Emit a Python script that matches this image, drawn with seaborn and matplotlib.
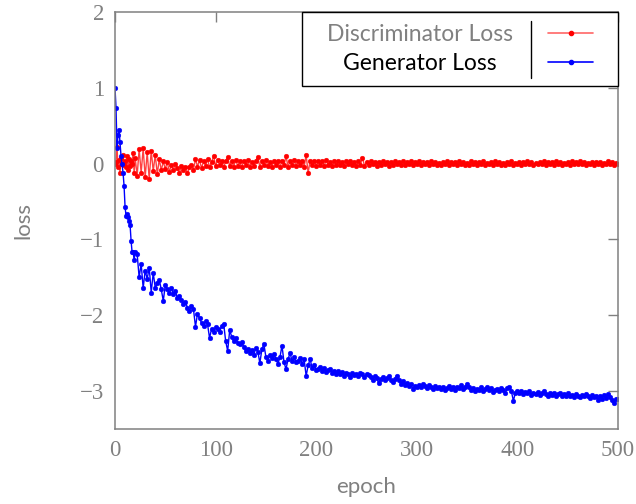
import matplotlib
matplotlib.use("Agg")
import matplotlib.pyplot as plt
import seaborn as sns
import pandas as pd
from matplotlib.lines import Line2D
from matplotlib.patches import Rectangle

# ---------------- data ----------------
epochs = list(range(0, 21)) + list(range(22, 501, 2))

disc_loss = [
    0.00, 0.02, 0.22, -0.05, 0.05, -0.12, 0.08, 0.00, 0.12, -0.02,
    0.03, -0.05, 0.10, -0.08, 0.06, -0.03, 0.04, 0.00, 0.14, -0.12, 0.08,
    -0.16, 0.19, -0.12, 0.20, -0.18, 0.15, -0.20, 0.17, -0.10, 0.12,
    -0.14, 0.06, -0.09, 0.03, -0.07, 0.02, -0.11, -0.02, -0.08, 0.00,
    -0.06, -0.12, -0.03, -0.09, -0.04, -0.13, -0.05, -0.02, -0.08, 0.06,
    -0.04, 0.05, -0.06, 0.03, -0.03, 0.06, -0.05, 0.02, 0.10, -0.03,
    0.05, -0.02, 0.04, -0.05, 0.03, 0.09, -0.03, 0.04, -0.04, 0.05,
    -0.03, 0.03, -0.05, 0.04, -0.02, 0.05, -0.04, 0.02, -0.03, 0.04,
    0.09, -0.04, 0.03, -0.02, 0.05, -0.03, 0.02, -0.04, 0.04, -0.02,
    0.03, -0.05, 0.04, -0.02, 0.10, -0.04, 0.03, -0.02, 0.05, -0.03,
    0.04, -0.02, 0.03, -0.04, 0.11, -0.12, 0.04, -0.02, 0.03, -0.03,
    0.04, -0.02, 0.03, -0.03, 0.05, -0.02, 0.02, -0.03, 0.04, -0.02,
    0.03, -0.02, 0.02, -0.03, 0.04, -0.01, 0.03, -0.02, 0.02, -0.03,
    0.03, -0.02, 0.08, -0.03, 0.02, -0.02, 0.03, -0.01, 0.02, -0.03,
    0.02, -0.02, 0.03, -0.01, 0.02, -0.03, 0.02, -0.02, 0.03, -0.01,
    0.02, -0.02, 0.04, -0.02, 0.02, -0.01, 0.03, -0.02, 0.02, -0.01,
    0.03, -0.02, 0.02, -0.01, 0.02, -0.02, 0.03, -0.01, 0.02, -0.02,
    0.01, -0.02, 0.02, -0.01, 0.03, -0.02, 0.02, -0.01, 0.02, -0.02,
    0.03, -0.01, 0.02, -0.02, 0.01, -0.02, 0.03, -0.01, 0.02, -0.02,
    0.02, -0.01, 0.03, -0.02, 0.01, -0.01, 0.02, -0.02, 0.03, -0.01,
    0.02, -0.02, 0.01, -0.02, 0.02, -0.01, 0.03, -0.02, 0.01, -0.01,
    0.02, -0.02, 0.02, -0.01, 0.03, -0.01, 0.02, -0.02, 0.01, -0.01,
    0.02, -0.01, 0.03, -0.02, 0.02, -0.01, 0.02, -0.02, 0.03, -0.01,
    0.02, -0.02, 0.01, -0.01, 0.02, -0.02, 0.03, -0.01, 0.02, -0.01,
    0.03, -0.01, 0.02, -0.02, 0.01, -0.01, 0.02, -0.02, 0.02, -0.01,
    0.02, -0.02, 0.01, -0.01, 0.03, -0.01, 0.02, -0.02, 0.01, 0.00,
]

gen_loss = [
    1.00, 0.74, 0.21, 0.38, 0.45, 0.28, 0.10, -0.01, -0.12, -0.29,
    -0.57, -0.69, -0.66, -0.70, -0.75, -0.81, -1.02, -1.17, -1.16, -1.27, -1.17,
    -1.19, -1.50, -1.32, -1.64, -1.41, -1.52, -1.37, -1.70, -1.44, -1.64,
    -1.58, -1.53, -1.66, -1.81, -1.60, -1.66, -1.70, -1.64, -1.72, -1.68,
    -1.77, -1.74, -1.80, -1.85, -1.82, -1.90, -1.94, -1.88, -1.92, -2.15,
    -1.98, -2.04, -2.10, -2.14, -2.08, -2.12, -2.30, -2.18, -2.22, -2.16,
    -2.18, -2.22, -2.14, -2.11, -2.34, -2.47, -2.20, -2.28, -2.34, -2.30,
    -2.36, -2.38, -2.35, -2.42, -2.47, -2.44, -2.50, -2.46, -2.52, -2.43,
    -2.48, -2.63, -2.45, -2.38, -2.55, -2.60, -2.52, -2.56, -2.51, -2.58,
    -2.64, -2.55, -2.40, -2.62, -2.71, -2.58, -2.50, -2.60, -2.55, -2.62,
    -2.60, -2.56, -2.64, -2.58, -2.80, -2.66, -2.58, -2.70, -2.65, -2.72,
    -2.71, -2.68, -2.74, -2.70, -2.75, -2.72, -2.71, -2.76, -2.73, -2.77,
    -2.74, -2.78, -2.75, -2.80, -2.76, -2.77, -2.81, -2.76, -2.79, -2.77,
    -2.80, -2.76, -2.78, -2.82, -2.77, -2.79, -2.81, -2.85, -2.80, -2.83,
    -2.89, -2.84, -2.82, -2.86, -2.83, -2.80, -2.85, -2.88, -2.84, -2.80,
    -2.86, -2.90, -2.87, -2.92, -2.89, -2.93, -2.91, -2.97, -2.93, -2.95,
    -2.92, -2.95, -2.90, -2.93, -2.96, -2.92, -2.95, -2.97, -2.93, -2.96,
    -2.94, -2.97, -2.95, -2.99, -2.96, -2.93, -2.97, -2.95, -2.98, -2.94,
    -2.96, -2.92, -2.97, -2.94, -2.91, -2.95, -2.98, -2.96, -3.00, -2.97,
    -2.99, -2.95, -3.00, -2.97, -2.95, -2.99, -2.96, -3.01, -2.98, -2.97,
    -3.00, -2.96, -2.98, -3.02, -2.96, -2.94, -3.00, -3.13, -3.02, -3.00,
    -3.03, -3.00, -3.04, -3.01, -3.03, -3.00, -3.05, -3.02, -3.04, -3.01,
    -3.05, -3.03, -3.00, -3.04, -3.06, -3.02, -3.05, -3.03, -3.07, -3.04,
    -3.02, -3.06, -3.04, -3.07, -3.03, -3.06, -3.05, -3.08, -3.04, -3.06,
    -3.08, -3.05, -3.07, -3.04, -3.06, -3.09, -3.05, -3.08, -3.06, -3.12,
    -3.07, -3.10, -3.05, -3.09, -3.04, -3.08, -3.12, -3.16, -3.10, -3.11,
]

n = min(len(epochs), len(disc_loss), len(gen_loss))

x_ticks = [0, 100, 200, 300, 400, 500]
y_ticks = [-3, -2, -1, 0, 1, 2]
x_label = "epoch"
y_label = "loss"
series_names = ["Discriminator Loss", "Generator Loss"]

# ---------------- style ----------------
sns.set_theme(style="white")
GRAY = "#808080"
plt.rcParams["font.family"] = ["Lato", "DejaVu Sans"]

W, H = 636, 504
AX_L, AX_R, AX_T, AX_B = 115, 618, 12, 429
fig = plt.figure(figsize=(W / 100, H / 100), dpi=100)
ax = fig.add_axes([AX_L / W, 1 - AX_B / H, (AX_R - AX_L) / W, (AX_B - AX_T) / H])
AXW, AXH = AX_R - AX_L, AX_B - AX_T

df_d = pd.DataFrame({"epoch": epochs[:n], "loss": disc_loss[:n]})
df_g = pd.DataFrame({"epoch": epochs[:n], "loss": gen_loss[:n]})

sns.lineplot(data=df_d, x="epoch", y="loss", ax=ax, color=(1, 0, 0, 0.75),
             linewidth=1.0, marker="o", markersize=3.4, markerfacecolor="red",
             markeredgecolor="red", markeredgewidth=0.3, legend=False)
sns.lineplot(data=df_g, x="epoch", y="loss", ax=ax, color="blue",
             linewidth=1.0, marker="o", markersize=3.4, markerfacecolor="blue",
             markeredgecolor="blue", markeredgewidth=0.3, legend=False)

ax.set_xlim(0, 500)
ax.set_ylim(-3.5, 2)
ax.set_xticks(x_ticks)
ax.set_yticks(y_ticks)
ax.set_xticklabels([str(v) for v in x_ticks])
ax.set_yticklabels([str(v).replace("-", "\u2212") for v in y_ticks])

for sp in ax.spines.values():
    sp.set_color(GRAY)
    sp.set_linewidth(1.1)

ax.tick_params(axis="both", which="both", direction="in", length=7,
               width=1.0, color=GRAY, top=True, right=True,
               labelcolor=GRAY, labelsize=16.5, pad=8)
for lab in ax.get_xticklabels() + ax.get_yticklabels():
    lab.set_fontfamily("Liberation Serif")

ax.set_xlabel(x_label, color=GRAY, fontsize=16)
ax.set_ylabel(y_label, color=GRAY, fontsize=16)
ax.xaxis.label.set_va("center")
ax.yaxis.label.set_va("center")
ax.xaxis.set_label_coords(0.5, (AX_B - 487) / AXH)
ax.yaxis.set_label_coords((23 - AX_L) / AXW, 0.5)

# legend
PADX, PADY = 25, 12
FS = 16.5
handles = [
    Line2D([], [], color=(1, 0, 0, 0.6), lw=1.2, marker="o", markersize=3,
           markerfacecolor="red", markeredgecolor="red"),
    Line2D([], [], color="blue", lw=1.2, marker="o", markersize=3,
           markerfacecolor="blue", markeredgecolor="blue"),
]
leg = ax.legend(handles, series_names, loc="upper right",
                bbox_to_anchor=(1 - PADX / AXW, 1 - PADY / AXH),
                markerfirst=False, numpoints=1, fontsize=FS, frameon=False,
                borderpad=0, borderaxespad=0, handlelength=1.96,
                handletextpad=1.53, labelspacing=0.36)
leg.set_zorder(6)
texts = leg.get_texts()
texts[0].set_color(GRAY)
texts[1].set_color("black")

fig.canvas.draw()
r = fig.canvas.get_renderer()
w0 = texts[0].get_window_extent(r).width
w1 = texts[1].get_window_extent(r).width
texts[1].set_x(-(w0 - w1) / 2)

bb = leg.get_window_extent(r)
inv = ax.transAxes.inverted()
x0, y0 = inv.transform((bb.x0 - PADX, bb.y0 - PADY))
ax.add_patch(Rectangle((x0, y0), 1 - x0, 1 - y0, transform=ax.transAxes,
                       facecolor="white", edgecolor="black", lw=1.0,
                       zorder=5.5, clip_on=False))

fs_px = FS * 100 / 72
text_right = texts[0].get_window_extent(r).x1
handle_left = bb.x1 - 1.96 * fs_px
sx = (text_right + handle_left) / 2
top_disp = bb.y1 + PADY
bot_disp = bb.y0 - PADY
(sxa, sy1), = inv.transform([(sx, top_disp - 9)])
(_, sy0), = inv.transform([(sx, bot_disp + 8)])
ax.add_line(Line2D([sxa, sxa], [sy0, sy1], transform=ax.transAxes,
                   color="black", lw=1.0, zorder=6, clip_on=False))

fig.savefig("out.png", dpi=100)
